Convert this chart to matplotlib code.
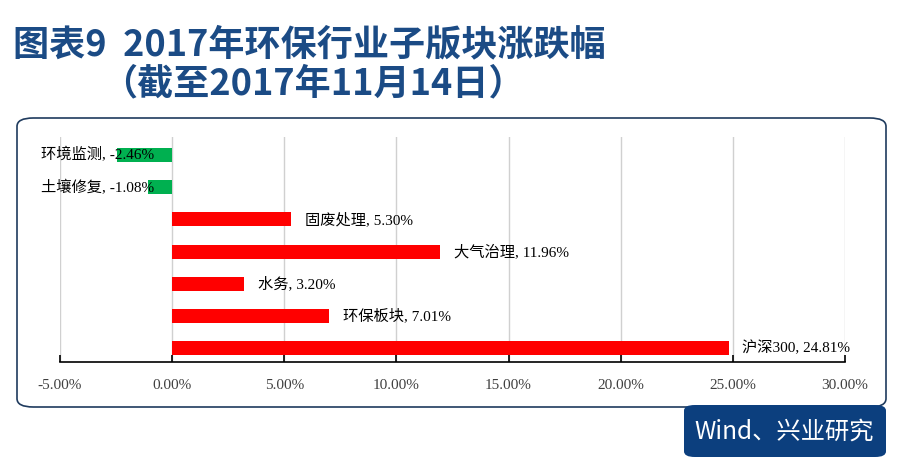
import matplotlib.pyplot as plt
from matplotlib.patches import FancyBboxPatch
from matplotlib.ticker import FuncFormatter

plt.rcParams['font.family'] = ['Liberation Serif', 'Noto Sans CJK SC']

# data (percent change, 2017 to Nov 14)
categories = ['环境监测', '土壤修复', '固废处理', '大气治理', '水务', '环保板块', '沪深300']
values = [-2.46, -1.08, 5.30, 11.96, 3.20, 7.01, 24.81]
xticks = [-5, 0, 5, 10, 15, 20, 25, 30]

W, H = 905, 466
fig = plt.figure(figsize=(W / 100, H / 100), dpi=100)

# rounded frame around the plot
frame = FancyBboxPatch((17 / W, 1 - 407 / H), (886 - 17) / W, (407 - 118) / H,
                       boxstyle='round,pad=0,rounding_size=0.018',
                       transform=fig.transFigure, facecolor='white',
                       edgecolor='#1f3b5e', linewidth=1.2, zorder=-2)
fig.patches.append(frame)

# source tag, bottom right
tag = FancyBboxPatch((684 / W, 1 - 457 / H), (886 - 684) / W, (457 - 405) / H,
                     boxstyle='round,pad=0,rounding_size=0.012',
                     transform=fig.transFigure, facecolor='#0c3f7e',
                     edgecolor='none', zorder=1)
fig.patches.append(tag)
fig.text(784 / W, 1 - 432 / H, 'Wind、兴业研究', color='white', fontsize=17.5,
         family=['Noto Sans CJK SC'], ha='center', va='center', zorder=2)

# title
title_kw = dict(color='#1b4b85', fontsize=26, family=['Noto Sans CJK SC'],
                fontweight='bold', va='center')
fig.text(13 / W, 1 - 45 / H, '图表9  2017年环保行业子版块涨跌幅', ha='left', **title_kw)
fig.text(101 / W, 1 - 84 / H, '（截至2017年11月14日）', ha='left', **title_kw)

ax = fig.add_axes([60 / W, 1 - 362 / H, (845 - 60) / W, (362 - 137) / H])
ax.set_facecolor('none')

ypos = list(range(len(categories)))
colors = ['#00b050' if v < 0 else '#ff0000' for v in values]
ax.barh(ypos, values, height=0.44, color=colors, zorder=3)

for y, c, v in zip(ypos, categories, values):
    txt = f'{c}, {v:.2f}%'
    if v < 0:
        ax.annotate(txt, (0, y), xytext=(-13, 0), textcoords='offset points',
                    ha='right', va='center', fontsize=11, zorder=4)
    else:
        ax.annotate(txt, (v, y), xytext=(10, 0), textcoords='offset points',
                    ha='left', va='center', fontsize=11, zorder=4)

ax.set_xlim(-5, 30)
ax.set_ylim(6.43, -0.56)
ax.set_xticks(xticks)
ax.xaxis.set_major_formatter(FuncFormatter(lambda x, p: f'{x:.2f}%'))
ax.tick_params(axis='x', direction='in', length=5, width=1.2, pad=12,
               labelsize=11, colors='black', labelcolor='#404040')
ax.set_yticks([])
ax.grid(axis='x', color='#d0d0d0', linewidth=1, zorder=0)
for s in ['top', 'right', 'left']:
    ax.spines[s].set_visible(False)
ax.spines['bottom'].set_linewidth(1.2)

fig.savefig('out.png', dpi=100)
